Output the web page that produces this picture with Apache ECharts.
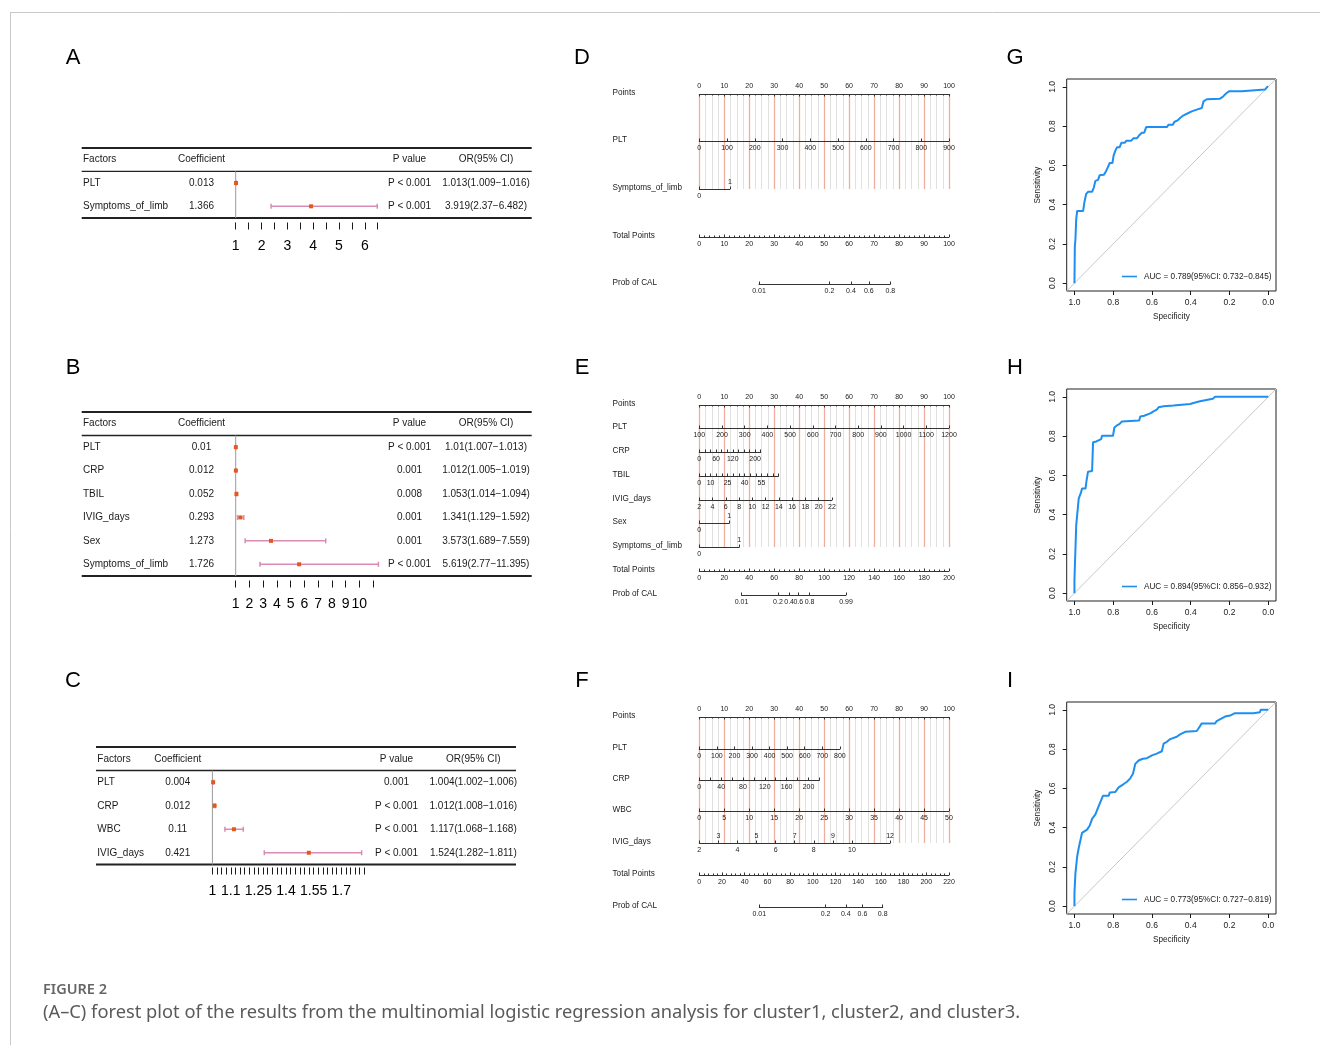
<!DOCTYPE html>
<html>
<head>
<meta charset="utf-8">
<title>Figure 2</title>
<script src="https://cdn.jsdelivr.net/npm/echarts@6.0.0/dist/echarts.min.js"></script>
<style>
  html, body { margin: 0; padding: 0; background: #fff; }
  #main { width: 1320px; height: 1045px; }
</style>
</head>
<body>
<div id="main"></div>
<script>
// ---------- A: forest plot, cluster1 ----------
const factorsA = ["PLT", "Symptoms_of_limb"];
const coefA = [0.013, 1.366];
const pValueA = ["P < 0.001", "P < 0.001"];
const orA = [1.013, 3.919];
const lowerA = [1.009, 2.37];
const upperA = [1.016, 6.482];
const ticksA = [1, 1.5, 2, 2.5, 3, 3.5, 4, 4.5, 5, 5.5, 6, 6.5];
const tickLabelsA = [1, 2, 3, 4, 5, 6];

// ---------- B: forest plot, cluster2 ----------
const factorsB = ["PLT", "CRP", "TBIL", "IVIG_days", "Sex", "Symptoms_of_limb"];
const coefB = [0.01, 0.012, 0.052, 0.293, 1.273, 1.726];
const pValueB = ["P < 0.001", "0.001", "0.008", "0.001", "0.001", "P < 0.001"];
const orB = [1.01, 1.012, 1.053, 1.341, 3.573, 5.619];
const lowerB = [1.007, 1.005, 1.014, 1.129, 1.689, 2.77];
const upperB = [1.013, 1.019, 1.094, 1.592, 7.559, 11.395];
const ticksB = [1, 2, 3, 4, 5, 6, 7, 8, 9, 10, 11];
const tickLabelsB = [1, 2, 3, 4, 5, 6, 7, 8, 9, 10];

// ---------- C: forest plot, cluster3 ----------
const factorsC = ["PLT", "CRP", "WBC", "IVIG_days"];
const coefC = [0.004, 0.012, 0.11, 0.421];
const pValueC = ["0.001", "P < 0.001", "P < 0.001", "P < 0.001"];
const orC = [1.004, 1.012, 1.117, 1.524];
const lowerC = [1.002, 1.008, 1.068, 1.282];
const upperC = [1.006, 1.016, 1.168, 1.811];
const ticksC = [1, 1.025, 1.05, 1.075, 1.1, 1.125, 1.15, 1.175, 1.2, 1.225, 1.25, 1.275,
    1.3, 1.325, 1.35, 1.375, 1.4, 1.425, 1.45, 1.475, 1.5, 1.525, 1.55, 1.575, 1.6,
    1.625, 1.65, 1.675, 1.7, 1.725, 1.75, 1.775, 1.8, 1.825];
const tickLabelsC = [1, 1.1, 1.25, 1.4, 1.55, 1.7];

// ---------- D: nomogram ----------
const rowsD = ["Points", "PLT", "Symptoms_of_limb", "Total Points", "Prob of CAL"];
const pointsAtMaxD = [100, 12.3];
const pltD = [0, 100, 200, 300, 400, 500, 600, 700, 800, 900];
const symptomsD = [0, 1];
const totalMaxD = 100;
const probD = [0.01, 0.2, 0.4, 0.6, 0.8];
const probPointsD = [23.9, 76.5];

// ---------- E: nomogram ----------
const rowsE = ["Points", "PLT", "CRP", "TBIL", "IVIG_days", "Sex", "Symptoms_of_limb", "Total Points", "Prob of CAL"];
const pointsAtMaxE = [100, 24.6, 31.7, 53.1, 12.0, 16.0];
const pltE = [100, 200, 300, 400, 500, 600, 700, 800, 900, 1000, 1100, 1200];
const crpTicksE = [0, 20, 40, 60, 80, 100, 120, 140, 160, 180, 200, 220];
const crpLabelsE = [0, 60, 120, 200];
const tbilTicksE = [0, 5, 10, 15, 20, 25, 30, 35, 40, 45, 50, 55, 60, 65, 70];
const tbilLabelsE = [0, 10, 25, 40, 55];
const ivigE = [2, 4, 6, 8, 10, 12, 14, 16, 18, 20, 22];
const sexE = [0, 1];
const symptomsE = [0, 1];
const totalMaxE = 200;
const probE = [0.01, 0.2, 0.4, 0.6, 0.8, 0.99];
const probPointsE = [33.8, 117.5];

// ---------- F: nomogram ----------
const rowsF = ["Points", "PLT", "CRP", "WBC", "IVIG_days", "Total Points", "Prob of CAL"];
const pointsAtMaxF = [56.3, 48.1, 100, 76.4];
const pltF = [0, 100, 200, 300, 400, 500, 600, 700, 800];
const crpTicksF = [0, 20, 40, 60, 80, 100, 120, 140, 160, 180, 200, 220];
const crpLabelsF = [0, 40, 80, 120, 160, 200];
const wbcF = [0, 5, 10, 15, 20, 25, 30, 35, 40, 45, 50];
const ivigLowerF = [2, 4, 6, 8, 10];
const ivigUpperF = [3, 5, 7, 9, 12];
const totalMaxF = 220;
const probF = [0.01, 0.2, 0.4, 0.6, 0.8];
const probPointsF = [52.9, 161.6];

// ---------- G-I: ROC curves [specificity, sensitivity] ----------
const rocG = [[1, 0], [0.998, 0.188], [0.995, 0.222], [0.991, 0.325], [0.986, 0.368], [0.955, 0.368],
    [0.949, 0.41], [0.94, 0.453], [0.93, 0.465], [0.909, 0.465], [0.9, 0.487], [0.892, 0.521],
    [0.878, 0.526], [0.87, 0.55], [0.849, 0.552], [0.84, 0.564], [0.828, 0.59], [0.818, 0.612],
    [0.804, 0.612], [0.798, 0.65], [0.789, 0.675], [0.78, 0.692], [0.767, 0.692], [0.758, 0.715],
    [0.741, 0.715], [0.732, 0.726], [0.707, 0.726], [0.695, 0.738], [0.678, 0.738], [0.667, 0.752],
    [0.652, 0.766], [0.64, 0.766], [0.63, 0.795], [0.523, 0.795], [0.515, 0.807], [0.492, 0.807],
    [0.485, 0.821], [0.468, 0.829], [0.455, 0.841], [0.437, 0.855], [0.42, 0.863], [0.395, 0.875],
    [0.369, 0.884], [0.343, 0.892], [0.334, 0.926], [0.317, 0.937], [0.249, 0.94], [0.235, 0.949],
    [0.218, 0.966], [0.201, 0.978], [0.137, 0.978], [0.129, 0.986], [0.017, 0.986], [0.005, 1], [0, 1]];
const rocH = [[1, 0], [1, 0.068], [0.995, 0.068], [0.991, 0.345], [0.983, 0.345], [0.978, 0.482],
    [0.973, 0.49], [0.966, 0.513], [0.961, 0.533], [0.943, 0.533], [0.938, 0.571], [0.93, 0.619],
    [0.909, 0.622], [0.904, 0.769], [0.887, 0.773], [0.878, 0.781], [0.862, 0.785], [0.858, 0.802],
    [0.801, 0.802], [0.794, 0.844], [0.78, 0.855], [0.767, 0.862], [0.755, 0.875], [0.746, 0.88],
    [0.666, 0.88], [0.66, 0.9], [0.64, 0.904], [0.635, 0.913], [0.609, 0.916], [0.592, 0.926],
    [0.575, 0.935], [0.566, 0.947], [0.54, 0.952], [0.489, 0.956], [0.403, 0.964], [0.377, 0.971],
    [0.352, 0.978], [0.326, 0.983], [0.317, 0.99], [0.286, 0.99], [0.274, 1], [0, 1]];
const rocI = [[1, 0], [1, 0.067], [0.995, 0.167], [0.99, 0.167], [0.986, 0.253], [0.978, 0.296],
    [0.969, 0.304], [0.961, 0.373], [0.952, 0.376], [0.935, 0.39], [0.921, 0.411], [0.909, 0.445],
    [0.892, 0.467], [0.875, 0.51], [0.866, 0.51], [0.853, 0.562], [0.823, 0.562], [0.818, 0.579],
    [0.789, 0.582], [0.772, 0.605], [0.746, 0.622], [0.729, 0.634], [0.712, 0.651], [0.698, 0.674],
    [0.686, 0.725], [0.669, 0.742], [0.647, 0.751], [0.626, 0.754], [0.6, 0.768], [0.575, 0.777],
    [0.549, 0.789], [0.54, 0.828], [0.523, 0.837], [0.506, 0.851], [0.472, 0.863], [0.455, 0.875],
    [0.429, 0.888], [0.369, 0.892], [0.36, 0.905], [0.343, 0.931], [0.274, 0.931], [0.266, 0.943],
    [0.24, 0.957], [0.223, 0.966], [0.197, 0.971], [0.172, 0.983], [0.077, 0.983], [0.043, 0.988],
    [0.039, 1], [0, 1]];
const aucLabels = ["AUC = 0.789(95%CI: 0.732\u22120.845)", "AUC = 0.894(95%CI: 0.856\u22120.932)", "AUC = 0.773(95%CI: 0.727\u22120.819)"];
const rocTicks = [0, 0.2, 0.4, 0.6, 0.8, 1];

// ---------- drawing ----------
const FONT = '"Liberation Sans", Arial, Helvetica, sans-serif';
const INK = "#1a1a1a";
const option = { animation: false, backgroundColor: "#fff", grid: [], xAxis: [], yAxis: [], series: [], legend: [], graphic: [] };

function addGrid (g) {
    option.grid.push(Object.assign({ show: false, containLabel: false, outerBoundsMode: "none" }, g));
    return option.grid.length - 1;
}
function pushX (axis) { option.xAxis.push(axis); return option.xAxis.length - 1; }
function pushY (axis) { option.yAxis.push(axis); return option.yAxis.length - 1; }
function text (str, x, y, font, extra) {
    option.graphic.push({
        type: "text", x: x, y: y, silent: true,
        style: Object.assign({ text: str, fill: INK, font: font, align: "left", verticalAlign: "middle" }, extra || {})
    });
}

// forest plots with their tables
function forestPanel (f) {
    const n = f.factors.length;
    const height = f.rowH * (n + 1);
    const gt = addGrid({ left: f.tableLeft, top: f.top, width: f.tableWidth, height: height });
    const xt = pushX({ gridIndex: gt, type: "value", min: 0, max: f.tableWidth, show: false });
    const yt = pushY({ gridIndex: gt, type: "value", min: 0, max: n + 1, inverse: true, show: false });

    const header = ["Factors", "Coefficient", "P value", "OR(95% CI)"];
    const cells = header.map((h, c) => ({ c: c, r: 0, text: h }));
    f.factors.forEach((name, i) => {
        cells.push({ c: 0, r: i + 1, text: name });
        cells.push({ c: 1, r: i + 1, text: String(f.coef[i]) });
        cells.push({ c: 2, r: i + 1, text: f.p[i] });
        cells.push({ c: 3, r: i + 1, text: `${f.or[i]}(${f.lower[i]}\u2212${f.upper[i]})` });
    });
    option.series.push({
        type: "custom", xAxisIndex: xt, yAxisIndex: yt, silent: true,
        data: cells.map(cell => [f.cols[cell.c], cell.r + 0.5]),
        renderItem: function (params, api) {
            const cell = cells[params.dataIndex];
            const p = api.coord([api.value(0), api.value(1)]);
            return {
                type: "text", x: p[0], y: p[1],
                style: { text: cell.text, fill: INK, font: "10px " + FONT, align: cell.c === 0 ? "left" : "center", verticalAlign: "middle" }
            };
        }
    });
    // horizontal rules: top, under header, bottom
    option.series.push({
        type: "custom", xAxisIndex: xt, yAxisIndex: yt, silent: true,
        data: [[0, 2], [1, 1.4], [n + 1, 2]],
        renderItem: function (params, api) {
            const a = api.coord([0, api.value(0)]);
            const b = api.coord([f.tableWidth, api.value(0)]);
            return { type: "line", shape: { x1: a[0], y1: a[1], x2: b[0], y2: b[1] }, style: { stroke: "#222", lineWidth: api.value(1) } };
        }
    });

    const gp = addGrid({ left: f.plotLeft, top: f.top, width: f.plotWidth, height: height });
    const xp = pushX({
        gridIndex: gp, type: "value", min: 1, max: f.axisMax, position: "bottom", offset: f.axisOffset,
        axisLine: { show: false, onZero: false },
        axisTick: { show: true, length: 7, customValues: f.ticks, lineStyle: { color: INK, width: 1 } },
        axisLabel: { show: true, customValues: f.tickLabels, formatter: v => String(v), fontSize: 14, margin: 17, color: "#000", fontFamily: FONT },
        splitLine: { show: false }
    });
    const yp = pushY({ gridIndex: gp, type: "value", min: 0, max: n + 1, inverse: true, show: false });
    // line of no effect (OR = 1)
    option.series.push({
        type: "custom", xAxisIndex: xp, yAxisIndex: yp, silent: true,
        data: [[1, 1, n + 1]],
        renderItem: function (params, api) {
            const a = api.coord([api.value(0), api.value(1)]);
            const b = api.coord([api.value(0), api.value(2)]);
            return { type: "line", shape: { x1: a[0], y1: a[1], x2: b[0], y2: b[1] }, style: { stroke: "#9a9a9a", lineWidth: 1 } };
        }
    });
    // confidence intervals and estimates
    option.series.push({
        type: "custom", xAxisIndex: xp, yAxisIndex: yp, silent: true,
        data: f.or.map((v, i) => [v, f.lower[i], f.upper[i], i + 1.5]),
        renderItem: function (params, api) {
            const y = api.value(3);
            const lo = api.coord([api.value(1), y]);
            const hi = api.coord([api.value(2), y]);
            const mid = api.coord([api.value(0), y]);
            const ci = { stroke: "#d98bb4", lineWidth: 1.5 };
            return {
                type: "group",
                children: [
                    { type: "line", shape: { x1: lo[0], y1: lo[1], x2: hi[0], y2: hi[1] }, style: ci },
                    { type: "line", shape: { x1: lo[0], y1: lo[1] - 2.5, x2: lo[0], y2: lo[1] + 2.5 }, style: ci },
                    { type: "line", shape: { x1: hi[0], y1: hi[1] - 2.5, x2: hi[0], y2: hi[1] + 2.5 }, style: ci },
                    { type: "rect", shape: { x: mid[0] - 2, y: mid[1] - 2, width: 4, height: 4 }, style: { fill: "#e2581f" } }
                ]
            };
        }
    });
}

forestPanel({ factors: factorsA, coef: coefA, p: pValueA, or: orA, lower: lowerA, upper: upperA, ticks: ticksA, tickLabels: tickLabelsA,
    tableLeft: 81.7, tableWidth: 450, top: 148, rowH: 23.33, cols: [1.3, 119.8, 327.8, 404.3],
    plotLeft: 235.7, plotWidth: 142, axisMax: 6.5, axisOffset: 4.5 });
forestPanel({ factors: factorsB, coef: coefB, p: pValueB, or: orB, lower: lowerB, upper: upperB, ticks: ticksB, tickLabels: tickLabelsB,
    tableLeft: 81.7, tableWidth: 450, top: 412, rowH: 23.43, cols: [1.3, 119.8, 327.8, 404.3],
    plotLeft: 235.7, plotWidth: 142.7, axisMax: 11.395, axisOffset: 4.5 });
forestPanel({ factors: factorsC, coef: coefC, p: pValueC, or: orC, lower: lowerC, upper: upperC, ticks: ticksC, tickLabels: tickLabelsC,
    tableLeft: 96, tableWidth: 420, top: 747, rowH: 23.5, cols: [1.3, 81.7, 300.5, 377.3],
    plotLeft: 212.4, plotWidth: 151.8, axisMax: 1.825, axisOffset: 3 });

// nomograms
const logit = p => Math.log(p / (1 - p));
const NOMO_FONT = 7;

function nomogram (nm) {
    const span = nm.x1 - nm.x0;
    // red / grey reference lines of the points scale
    const gv = addGrid({ left: nm.x0, top: nm.linesTop, width: span, height: nm.linesBottom - nm.linesTop });
    pushX({
        gridIndex: gv, type: "value", min: 0, max: 100, interval: 10,
        axisLine: { show: false }, axisTick: { show: false }, axisLabel: { show: false },
        minorTick: { show: false, splitNumber: 4 },
        splitLine: { show: true, lineStyle: { color: "#f0ad9d", width: 1.3 } },
        minorSplitLine: { show: true, lineStyle: { color: "#e1e1e1", width: 1 } }
    });
    pushY({ gridIndex: gv, type: "value", show: false });

    nm.rows.forEach((row, k) => {
        const y = nm.ys[k];
        text(row.name, nm.labelX, y - 1, "8.2px " + FONT);
        const scaleMax = row.scaleMax || 100;
        const p0 = row.p0 || 0;
        const left = nm.x0 + p0 / scaleMax * span;
        const width = (row.p1 - p0) / scaleMax * span;
        const gi = addGrid({ left: left, top: y, width: width, height: 0 });
        pushY({ gridIndex: gi, type: "value", show: false });
        const lbl = { show: true, fontSize: NOMO_FONT, color: INK, fontFamily: FONT, margin: 4, formatter: row.formatter || (v => String(v)) };
        const line = { show: true, onZero: false, lineStyle: { color: "#333", width: 1 } };
        if (row.kind === "points") {
            pushX({ gridIndex: gi, type: "value", position: "top", min: 0, max: 100, interval: 10, axisLine: line,
                axisTick: { show: true, inside: true, length: 2.5, lineStyle: { color: "#333" } },
                minorTick: { show: true, splitNumber: 4, length: 1.5, lineStyle: { color: "#333" } },
                axisLabel: lbl, splitLine: { show: false } });
        } else if (row.kind === "total") {
            pushX({ gridIndex: gi, type: "value", position: "bottom", min: 0, max: row.p1, interval: row.interval, axisLine: line,
                axisTick: { show: true, inside: true, length: 2.5, lineStyle: { color: "#333" } },
                minorTick: { show: true, splitNumber: 5, length: 1.5, lineStyle: { color: "#333" } },
                axisLabel: lbl, splitLine: { show: false } });
        } else {
            const all = row.ticks.concat(row.topTicks || []);
            const min = row.min !== undefined ? row.min : Math.min.apply(null, all);
            const max = row.max !== undefined ? row.max : Math.max.apply(null, all);
            pushX({ gridIndex: gi, type: "value", position: "bottom", min: min, max: max, axisLine: line,
                axisTick: { show: true, inside: true, length: 2.5, customValues: row.ticks, lineStyle: { color: "#333" } },
                axisLabel: Object.assign({}, lbl, { customValues: row.labels }), splitLine: { show: false } });
            if (row.topLabels) {
                pushX({ gridIndex: gi, type: "value", position: "top", min: min, max: max, axisLine: { show: false, onZero: false },
                    axisTick: { show: !!row.topTicks, inside: false, length: 2.5, customValues: row.topTicks || [], lineStyle: { color: "#333" } },
                    axisLabel: Object.assign({}, lbl, { customValues: row.topLabels, margin: 3 }), splitLine: { show: false } });
            }
        }
    });
}

function probRow (name, probs, pts, totalMax) {
    const logits = probs.map(logit);
    return {
        name: name, ticks: logits, labels: logits, min: logits[0], max: logits[logits.length - 1],
        p0: pts[0], p1: pts[1], scaleMax: totalMax,
        formatter: v => String(probs[logits.findIndex(l => Math.abs(l - v) < 1e-6)])
    };
}

nomogram({
    x0: 699.3, x1: 949, labelX: 612.5, linesTop: 94, linesBottom: 189, ys: [94, 141, 189, 237, 284],
    rows: [
        { name: rowsD[0], kind: "points", p1: 100 },
        { name: rowsD[1], ticks: pltD, labels: pltD, p1: pointsAtMaxD[0] },
        { name: rowsD[2], ticks: symptomsD, labels: [symptomsD[0]], topLabels: [symptomsD[1]], p1: pointsAtMaxD[1] },
        { name: rowsD[3], kind: "total", p1: totalMaxD, scaleMax: totalMaxD, interval: 10 },
        probRow(rowsD[4], probD, probPointsD, totalMaxD)
    ]
});
nomogram({
    x0: 699.3, x1: 949, labelX: 612.5, linesTop: 405, linesBottom: 547, ys: [405, 428, 452, 476, 500, 523, 547, 571, 595],
    rows: [
        { name: rowsE[0], kind: "points", p1: 100 },
        { name: rowsE[1], ticks: pltE, labels: pltE, p1: pointsAtMaxE[0] },
        { name: rowsE[2], ticks: crpTicksE, labels: crpLabelsE, p1: pointsAtMaxE[1] },
        { name: rowsE[3], ticks: tbilTicksE, labels: tbilLabelsE, p1: pointsAtMaxE[2] },
        { name: rowsE[4], ticks: ivigE, labels: ivigE, p1: pointsAtMaxE[3] },
        { name: rowsE[5], ticks: sexE, labels: [sexE[0]], topLabels: [sexE[1]], p1: pointsAtMaxE[4] },
        { name: rowsE[6], ticks: symptomsE, labels: [symptomsE[0]], topLabels: [symptomsE[1]], p1: pointsAtMaxE[5] },
        { name: rowsE[7], kind: "total", p1: totalMaxE, scaleMax: totalMaxE, interval: 20 },
        probRow(rowsE[8], probE, probPointsE, totalMaxE)
    ]
});
nomogram({
    x0: 699.3, x1: 949, labelX: 612.5, linesTop: 717, linesBottom: 843, ys: [717, 749, 780, 811, 843, 875, 907],
    rows: [
        { name: rowsF[0], kind: "points", p1: 100 },
        { name: rowsF[1], ticks: pltF, labels: pltF, p1: pointsAtMaxF[0] },
        { name: rowsF[2], ticks: crpTicksF, labels: crpLabelsF, p1: pointsAtMaxF[1] },
        { name: rowsF[3], ticks: wbcF, labels: wbcF, p1: pointsAtMaxF[2] },
        { name: rowsF[4], ticks: ivigLowerF, labels: ivigLowerF, topTicks: ivigUpperF, topLabels: ivigUpperF, p1: pointsAtMaxF[3] },
        { name: rowsF[5], kind: "total", p1: totalMaxF, scaleMax: totalMaxF, interval: 20 },
        probRow(rowsF[6], probF, probPointsF, totalMaxF)
    ]
});

// ROC curves
const ROC_MIN = -0.04, ROC_MAX = 1.04;
const ROC_BLUE = "#1e8ff0";
function rocPanel (curve, auc, top) {
    const gi = addGrid({ left: 1066.7, top: top, width: 209.3, height: 212, show: true, borderColor: "#222", borderWidth: 1, backgroundColor: "transparent" });
    const xi = pushX({
        gridIndex: gi, type: "value", inverse: true, min: ROC_MIN, max: ROC_MAX,
        name: "Specificity", nameLocation: "middle", nameGap: 22,
        nameTextStyle: { fontSize: 8.2, color: INK, fontFamily: FONT },
        axisLine: { show: false, onZero: false },
        axisTick: { show: true, length: 4, customValues: rocTicks, lineStyle: { color: INK } },
        axisLabel: { customValues: rocTicks, formatter: v => v.toFixed(1), fontSize: 8.5, margin: 7, color: INK, fontFamily: FONT },
        splitLine: { show: false }
    });
    const yi = pushY({
        gridIndex: gi, type: "value", min: ROC_MIN, max: ROC_MAX,
        name: "Sensitivity", nameLocation: "middle", nameGap: 25,
        nameTextStyle: { fontSize: 8.2, color: INK, fontFamily: FONT },
        axisLine: { show: false, onZero: false },
        axisTick: { show: true, length: 4, customValues: rocTicks, lineStyle: { color: INK } },
        axisLabel: { customValues: rocTicks, formatter: v => v.toFixed(1), rotate: 90, fontSize: 8.5, margin: 10, color: INK, fontFamily: FONT },
        splitLine: { show: false }
    });
    option.series.push({
        type: "line", name: "reference", xAxisIndex: xi, yAxisIndex: yi, silent: true, symbol: "none",
        data: [[ROC_MAX, ROC_MIN], [ROC_MIN, ROC_MAX]],
        lineStyle: { color: "#c8c8c8", width: 1 }
    });
    option.series.push({
        type: "line", name: auc, xAxisIndex: xi, yAxisIndex: yi, symbol: "none", data: curve,
        lineStyle: { color: ROC_BLUE, width: 2 }, itemStyle: { color: ROC_BLUE }
    });
    option.legend.push({
        data: [{ name: auc, icon: "rect" }], left: 1122, top: top + 193.5, padding: 0, itemWidth: 15, itemHeight: 1.6, itemGap: 0,
        selectedMode: false, itemStyle: { color: ROC_BLUE }, textStyle: { fontSize: 8.2, color: INK, fontFamily: FONT, padding: [0, 0, 0, 2] }
    });
}
rocPanel(rocG, aucLabels[0], 79);
rocPanel(rocH, aucLabels[1], 389);
rocPanel(rocI, aucLabels[2], 702);

// panel letters, frame and caption
const letters = [["A", 73, 58], ["B", 73, 368], ["C", 73, 681], ["D", 582, 58], ["E", 582, 368], ["F", 582, 681], ["G", 1015, 58], ["H", 1015, 368], ["I", 1010, 681]];
letters.forEach(l => text(l[0], l[1], l[2], "22px " + FONT, { align: "center", fill: "#000" }));
option.graphic.push({ type: "line", silent: true, shape: { x1: 10, y1: 12.5, x2: 1320, y2: 12.5 }, style: { stroke: "#c9c9c9", lineWidth: 1 } });
option.graphic.push({ type: "line", silent: true, shape: { x1: 10.5, y1: 12, x2: 10.5, y2: 1045 }, style: { stroke: "#c9c9c9", lineWidth: 1 } });
text("FIGURE 2", 43, 990, '600 14.5px "Noto Sans", sans-serif', { fill: "#666" });
text("(A\u2013C) forest plot of the results from the multinomial logistic regression analysis for cluster1, cluster2, and cluster3.",
    43, 1013, '18.3px "Noto Sans", sans-serif', { fill: "#5a5a5a" });

const chart = echarts.init(document.getElementById("main"));
chart.setOption(option);
</script>
</body>
</html>
